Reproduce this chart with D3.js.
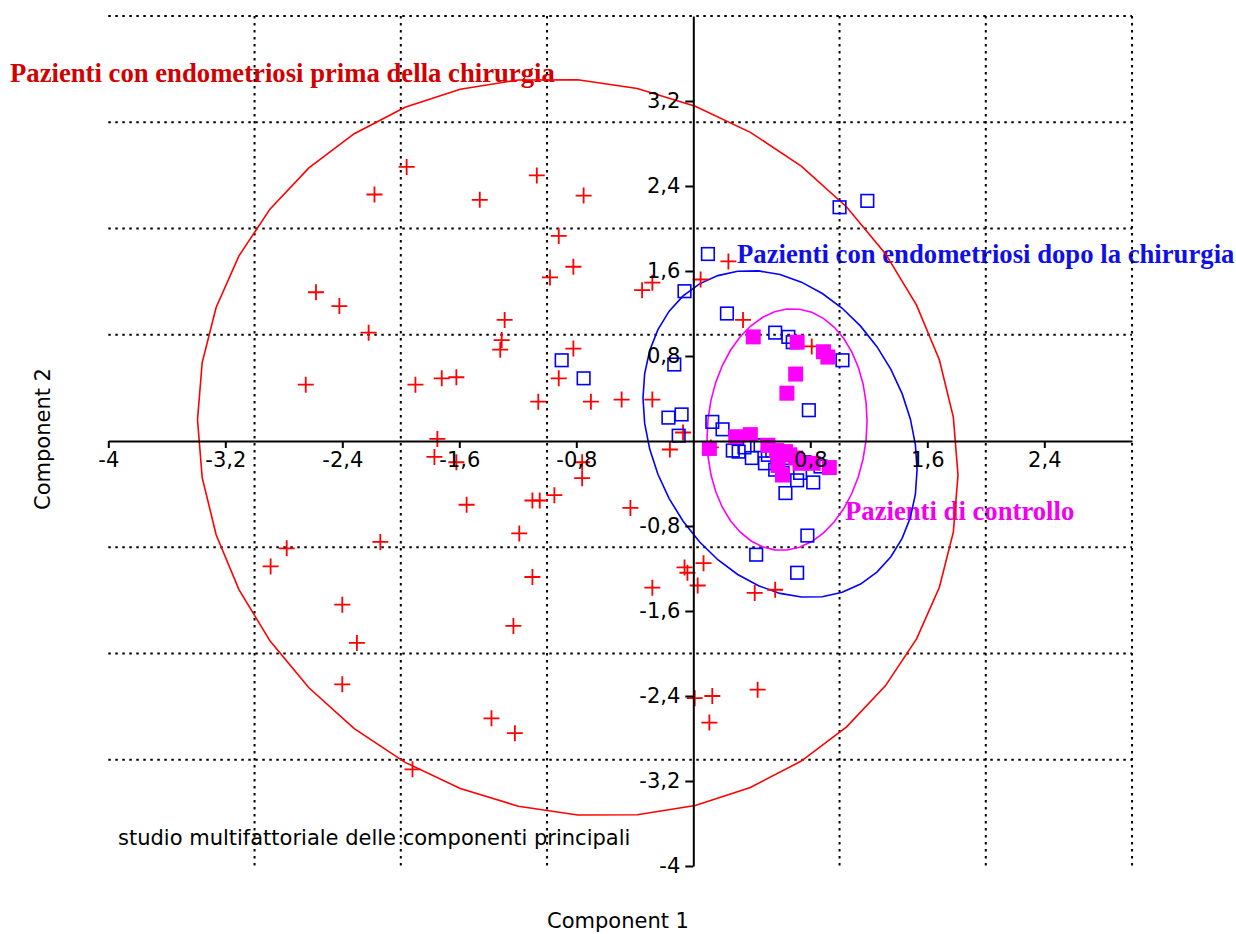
<!DOCTYPE html>
<html>
<head>
<meta charset="utf-8">
<script src="https://cdn.jsdelivr.net/npm/d3@7"></script>
<style>
  body { margin: 0; background: #fff; }
  svg { display: block; }
</style>
</head>
<body>
<svg id="chart" width="1236" height="934"></svg>
<script>
// component scores (Component 1, Component 2)
const prima = [[-1.96,2.58],[-2.18,2.32],[-1.46,2.27],[-1.07,2.50],[-0.75,2.31],[-0.92,1.93],[-0.82,1.64],[-0.98,1.54],
  [-2.58,1.40],[-2.42,1.27],[-2.22,1.02],[-1.29,1.14],[-1.31,0.95],[-1.32,0.86],[-2.65,0.53],[-1.90,0.53],[-1.72,0.59],
  [-1.62,0.60],[-0.35,1.42],[-0.28,1.49],[-0.82,0.87],[-0.92,0.59],[-1.06,0.37],[-0.70,0.37],[-0.49,0.39],[-0.28,0.39],
  [0.05,1.52],[0.24,1.69],[0.34,1.14],[0.81,0.89],[-0.07,0.08],[-0.16,-0.08],[-1.75,0.02],[-1.77,-0.15],[-1.62,-0.20],
  [-1.55,-0.60],[-2.78,-1.01],[-2.89,-1.18],[-2.14,-0.95],[-2.40,-1.54],[-2.30,-1.90],[-2.40,-2.29],[-1.23,-1.74],
  [-1.38,-2.61],[-1.22,-2.75],[-1.92,-3.09],[-1.19,-0.87],[-0.76,-0.20],[-0.76,-0.35],[-1.10,-0.56],[-1.05,-0.56],
  [-0.95,-0.51],[-0.43,-0.63],[-1.10,-1.28],[-0.28,-1.38],[-0.06,-1.19],[-0.04,-1.24],[0.07,-1.15],[0.03,-1.36],
  [0.42,-1.43],[0.56,-1.40],[0.01,-2.42],[0.13,-2.40],[0.11,-2.65],[0.44,-2.34],[0.12,-0.06]];
const dopo = [[1.00,2.20],[1.19,2.26],[0.10,1.76],[-0.06,1.41],[0.23,1.20],[0.56,1.02],[0.65,0.98],[0.68,0.93],
  [1.02,0.76],[-0.90,0.76],[-0.75,0.59],[-0.13,0.72],[0.79,0.29],[-0.17,0.22],[-0.08,0.25],[-0.10,0.05],[0.13,0.18],
  [0.20,0.11],[0.30,0.03],[0.31,-0.10],[0.40,-0.16],[0.49,-0.21],[0.61,-0.30],[0.82,-0.39],[0.63,-0.49],[0.73,-0.30],
  [0.78,-0.89],[0.43,-1.07],[0.71,-1.24],[0.35,-0.06],[0.46,-0.04],[0.54,-0.09],[0.66,-0.16],[0.76,-0.20],[0.87,-0.24],
  [0.71,-0.37],[0.56,-0.27],[0.27,-0.09],[0.51,-0.13]];
const controllo = [[0.41,0.98],[0.71,0.93],[0.89,0.84],[0.92,0.79],[0.70,0.63],[0.64,0.45],[0.11,-0.07],[0.29,0.04],
  [0.39,0.06],[0.51,-0.04],[0.57,-0.09],[0.63,-0.10],[0.66,-0.13],[0.58,-0.23],[0.61,-0.32],[0.73,-0.21],[0.82,-0.21],
  [0.93,-0.25],[0.70,-0.16]];

// confidence ellipses: centre x, centre y, half width, half height, correlation
const ellPrima = [-0.79, -0.06, 2.60, 3.47, -0.075];
const ellDopo = [0.593, 0.066, 0.937, 1.538, -0.22];
const ellControllo = [0.641, 0.108, 0.547, 1.137, 0.07];

const xTicks = [-4, -3.2, -2.4, -1.6, -0.8, 0.8, 1.6, 2.4];
const yTicks = [-4, -3.2, -2.4, -1.6, -0.8, 0.8, 1.6, 2.4, 3.2];
const gridX = [-3, -2, -1, 1, 2, 3];
const gridY = [-3, -2, -1, 1, 2, 3, 4];

const svg = d3.select("#chart");
const x = d3.scaleLinear().domain([-4, 3]).range([108.3, 1132.05]);
const y = d3.scaleLinear().domain([-4, 4]).range([866, 16]);
const sans = "'DejaVu Sans', Verdana, sans-serif";
const serif = "'Liberation Serif', 'Times New Roman', serif";
const fmt = d => String(d).replace(".", ",");

// group labels (drawn first, lines pass over them)
const labels = [
  {t: "Pazienti con endometriosi prima della chirurgia", x: 10, y: 82, c: "#d20000"},
  {t: "Pazienti con endometriosi dopo la chirurgia", x: 737, y: 263, c: "#1010e6"},
  {t: "Pazienti di controllo", x: 845, y: 520, c: "#f000f0"}
];
svg.selectAll(".grp").data(labels).join("text")
  .attr("x", d => d.x).attr("y", d => d.y)
  .attr("fill", d => d.c)
  .style("font-family", serif).style("font-weight", "bold").style("font-size", "26.7px")
  .text(d => d.t);

svg.append("text").attr("x", 118).attr("y", 845)
  .style("font-family", sans).style("font-size", "21px")
  .text("studio multifattoriale delle componenti principali");

// dotted grid
const grid = svg.append("g").attr("stroke", "#000").attr("stroke-width", 2).attr("stroke-dasharray", "2.5,4.5");
grid.selectAll(".gx").data(gridX).join("line")
  .attr("x1", d => x(d)).attr("x2", d => x(d)).attr("y1", y(4)).attr("y2", y(-4));
grid.selectAll(".gy").data(gridY).join("line")
  .attr("y1", d => y(d)).attr("y2", d => y(d)).attr("x1", x(-4)).attr("x2", x(3));

// ellipses as polylines
function ellipse(p) {
  const [cx, cy, sx, sy, r] = p;
  return d3.range(41).map(i => {
    const t = 2 * Math.PI * i / 40;
    return [cx + sx * Math.cos(t), cy + sy * (r * Math.cos(t) + Math.sqrt(1 - r * r) * Math.sin(t))];
  });
}
const line = d3.line().x(d => x(d[0])).y(d => y(d[1]));
[[ellPrima, "#ff0000"], [ellDopo, "#0000ff"], [ellControllo, "#ff00ff"]].forEach(([p, c]) => {
  svg.append("path").attr("d", line(ellipse(p)))
    .attr("fill", "none").attr("stroke", c).attr("stroke-width", 1.6);
});

// points
svg.append("g").selectAll("path").data(prima).join("path")
  .attr("d", d => `M${x(d[0]) - 8},${y(d[1])}h16M${x(d[0])},${y(d[1]) - 8}v16`)
  .attr("stroke", "#ff0000").attr("stroke-width", 1.8);
svg.append("g").selectAll("rect").data(dopo).join("rect")
  .attr("x", d => x(d[0]) - 6.3).attr("y", d => y(d[1]) - 6.3)
  .attr("width", 12.6).attr("height", 12.6)
  .attr("fill", "none").attr("stroke", "#0000ff").attr("stroke-width", 1.6);
svg.append("g").selectAll("rect").data(controllo).join("rect")
  .attr("x", d => x(d[0]) - 7.5).attr("y", d => y(d[1]) - 7.5)
  .attr("width", 15).attr("height", 15)
  .attr("fill", "#ff00ff");

// axes through the origin
const xAxis = svg.append("g").attr("transform", `translate(0,${y(0)})`)
  .call(d3.axisBottom(x).tickValues(xTicks).tickFormat(fmt).tickSize(7).tickSizeOuter(0));
xAxis.selectAll("text").attr("y", 26).attr("dy", 0);
const yAxis = svg.append("g").attr("transform", `translate(${x(0)},0)`)
  .call(d3.axisLeft(y).tickValues(yTicks).tickFormat(fmt).tickSize(8).tickSizeOuter(0));
yAxis.selectAll("text").attr("x", -13);
[xAxis, yAxis].forEach(a => {
  a.selectAll("path, line").attr("stroke", "#000").attr("stroke-width", 2);
  a.selectAll("text").attr("fill", "#000").style("font-family", sans).style("font-size", "21px");
});

svg.append("text").attr("x", 618).attr("y", 928).attr("text-anchor", "middle")
  .style("font-family", sans).style("font-size", "21px").text("Component 1");
svg.append("text").attr("transform", "translate(50,439) rotate(-90)").attr("text-anchor", "middle")
  .style("font-family", sans).style("font-size", "21px").text("Component 2");
</script>
</body>
</html>
